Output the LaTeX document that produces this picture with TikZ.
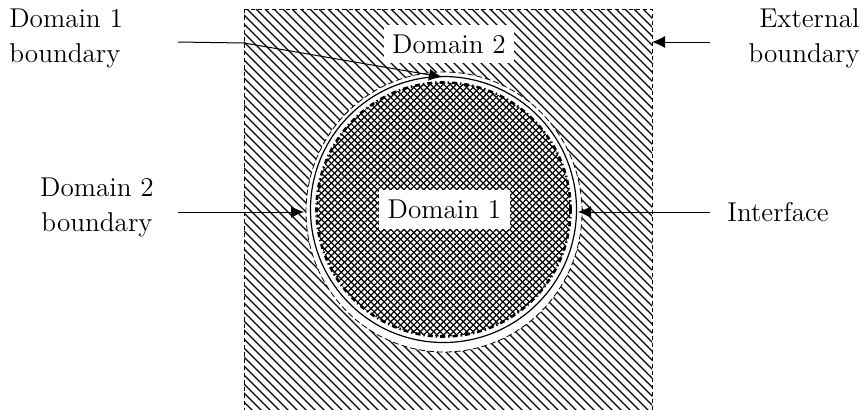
\documentclass[tikz,border=0pt]{standalone}
\usetikzlibrary{arrows.meta}
\begin{document}
\begin{tikzpicture}[x=0.5pt,y=-0.5pt,
  font=\fontsize{13.6}{17.5}\selectfont,
  box/.style={fill=white, inner xsep=4.3pt, inner ysep=5pt},
  arr/.style={-{Latex[length=6.5pt,width=6pt]}, line width=0.5pt},
  hatchline/.style={line width=0.6pt},
  crossline/.style={line width=0.6pt}]
\useasboundingbox (0,0) rectangle (862,409);
% external domain hatch
\begin{scope}
\clip (244,9) rectangle (652,409);
\foreach \k in {-420,-411,...,420} {
  \draw[hatchline] (244+\k,9) -- (664+\k,429);
}
\end{scope}
\begin{scope}
\clip (0,0) rectangle (862,409);
\draw[dash pattern=on 2pt off 1.5pt, line width=0.5pt] (244,9) rectangle (652,415);
\end{scope}
% outer white ring (domain 2 boundary)
\draw[dash pattern=on 3pt off 1.5pt, line width=0.4pt, fill=white] (444,212) ellipse[x radius=69pt, y radius=70pt];
% solid circle (domain 1 boundary)
\draw[line width=0.6pt] (443.5,209.5) circle[radius=66.5pt];
% interface crosshatch
\begin{scope}
\clip (443.5,209.5) circle[radius=63.5pt];
\foreach \k in {-264,-257.4,...,264} {
  \draw[crossline] (443.5+\k-130,79.5) -- (443.5+\k+130,339.5);
  \draw[crossline] (443.5+\k+130,79.5) -- (443.5+\k-130,339.5);
}
\end{scope}
\draw[line width=1.3pt, dash pattern=on 2.5pt off 1.5pt on 0.7pt off 1.5pt] (443.5,209.5) circle[radius=63.5pt];

\node[box] (d2) at (449,44) {Domain 2};
\node[box] (d1) at (444.5,209.5) {Domain 1};

\node[anchor=west, align=left, inner sep=0pt] (l1) at (9,38) {Domain 1\\boundary};
\node[align=center, inner sep=0pt] (l2) at (97,207) {Domain 2\\boundary};
\node[anchor=east, align=right, inner sep=0pt] (l3) at (860,38) {External\\boundary};
\node[anchor=west, inner sep=0pt] (l4) at (727,212) {Interface};

\coordinate (s1) at (178,42);
\coordinate (k1) at (244,43);
\coordinate (t1) at (442,77);
\coordinate (s2) at (178,212);
\coordinate (t2) at (304,212);
\coordinate (s3) at (710,42);
\coordinate (t3) at (652,42);
\coordinate (s4) at (710,212);
\coordinate (t4) at (578,212);

\draw[arr] (s1) -- (k1) -- (t1);
\draw[arr] (s2) -- (t2);
\draw[arr] (s3) -- (t3);
\draw[arr] (s4) -- (t4);
\end{tikzpicture}
\end{document}
